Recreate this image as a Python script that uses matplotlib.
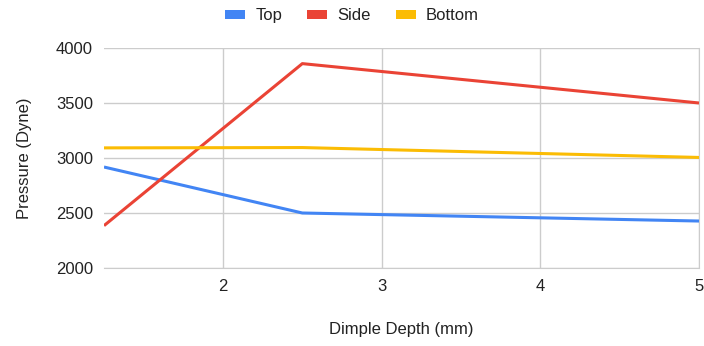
import matplotlib
matplotlib.use("Agg")
import matplotlib.pyplot as plt
from matplotlib.patches import Patch

plt.rcParams['font.family'] = ['Liberation Sans', 'DejaVu Sans']

depth = [1.25, 2.5, 5]
top = [2918, 2500, 2427]
side = [2385, 3858, 3500]
bottom = [3092, 3095, 3005]
series = [("Top", top, "#4285F4"), ("Side", side, "#EA4335"), ("Bottom", bottom, "#FBBC04")]
xticks = [2, 3, 4, 5]
yticks = [2000, 2500, 3000, 3500, 4000]

fig = plt.figure(figsize=(7.04, 3.46), dpi=100)
ax = fig.add_axes([104/704, 1-268/346, (699-104)/704, (268-48)/346])

for name, vals, col in series:
    ax.plot(depth, vals, color=col, lw=2.2, label=name, solid_capstyle='butt', zorder=3)

ax.set_xlim(1.25, 5)
ax.set_ylim(2000, 4000)
ax.set_xticks(xticks)
ax.set_yticks(yticks)
ax.grid(True, color="#cccccc", lw=1)
for s in ['top', 'left']:
    ax.spines[s].set_visible(False)
for s in ['bottom', 'right']:
    ax.spines[s].set_color("#cccccc")
ax.tick_params(length=0, labelsize=12, colors="#222222", pad=8)
ax.set_xlabel("Dimple Depth (mm)", fontsize=12, color="#222222", labelpad=20)
ax.set_ylabel("Pressure (Dyne)", fontsize=12, color="#222222", labelpad=17)

handles = [Patch(facecolor=c, edgecolor='none') for _, _, c in series]
fig.legend(handles, [n for n, _, _ in series], loc='upper center', bbox_to_anchor=(0.5, 1.02),
           ncol=3, frameon=False, fontsize=12, handlelength=1.2, handleheight=0.45,
           columnspacing=1.5, handletextpad=0.6, labelcolor="#222222")

fig.savefig("out.png", dpi=100)
